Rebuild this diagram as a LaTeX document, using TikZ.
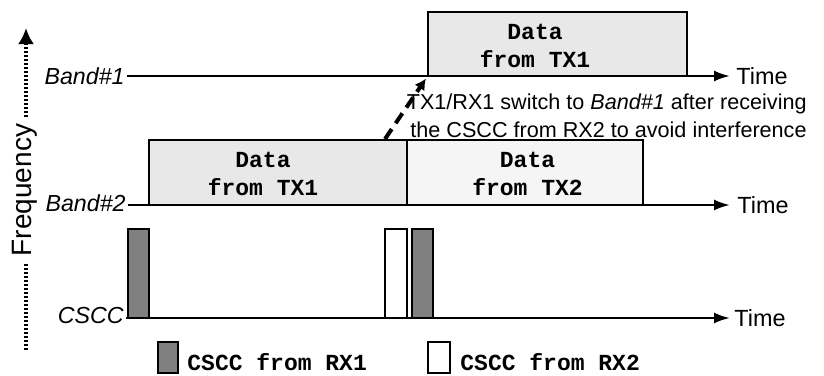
\documentclass[tikz,border=0pt]{standalone}
\usepackage{fontspec}
\setmainfont{Liberation Sans}
\setmonofont{Liberation Mono}
\usetikzlibrary{arrows.meta,calc}
\definecolor{pulsegray}{HTML}{808080}
\definecolor{txonefill}{HTML}{E8E8E8}
\definecolor{txtwofill}{HTML}{F5F5F5}
\begin{document}
\begin{tikzpicture}[x=0.5pt,y=-0.5pt,
  lbl/.style={font=\fontsize{10.8}{14}\selectfont, inner sep=1pt},
  bandlbl/.style={font=\fontsize{11.6}{14}\selectfont\itshape, inner sep=1pt, anchor=east},
  timelbl/.style={font=\fontsize{11.7}{14}\selectfont, inner sep=0pt, anchor=west},
  axis/.style={line width=1.15pt, -{Latex[length=8pt,width=5.5pt]}},
  freqline/.style={line width=2pt, dash pattern=on 1.1pt off 0.9pt},
  databox/.style={draw, line width=1pt, minimum height=32.5pt, inner sep=0pt},
  dtext/.style={font=\fontsize{11.5}{14}\selectfont\ttfamily\bfseries, align=center, inner sep=0pt},
  pulse/.style={draw, line width=1pt, minimum width=10.5pt, minimum height=44.5pt, inner sep=0pt},
  keybox/.style={draw, line width=1pt, minimum height=15.5pt, inner sep=0pt},
  switcharrow/.style={line width=2pt, dash pattern=on 6pt off 3.5pt,
    -{Latex[length=5.5pt,width=6pt]}, shorten >=1pt}]
\useasboundingbox (0,0) rectangle (824,375);

% frequency axis
\node[rotate=90, font=\fontsize{14}{16}\selectfont, inner sep=3pt] (freq) at (25,190) {Frequency};
\coordinate (fbot) at (26,350);
\coordinate (ftop) at (26,28);
\draw[freqline] (fbot) -- (freq.west -| fbot);
\draw[freqline, -{Latex[length=8pt,width=8pt]}] (freq.east -| ftop) -- (ftop);

% data transmissions
\node[databox, fill=txonefill, minimum width=129.5pt, minimum height=32pt] (d1) at (557.5,44) {};
\node[dtext] (d1t) at (535,46) {Data\\from TX1};
\node[databox, fill=txonefill, minimum width=129pt] (d2) at (278,172.5) {};
\node[dtext] (d2t) at (263,174) {Data\\from TX1};
\node[databox, fill=txtwofill, minimum width=118pt] (d3) at (525,172.5) {};
\node[dtext] (d3t) at (527.5,174) {Data\\from TX2};

% CSCC pulses
\node[pulse, fill=pulsegray] (p1) at (138.5,273.5) {};
\node[pulse, fill=white, minimum width=11pt] (p2) at (396,273.5) {};
\node[pulse, fill=pulsegray] (p3) at (422.5,273.5) {};

% time axes
\node[bandlbl] (b1) at (127,76) {Band\#1};
\coordinate (e1) at (730,76);
\node[timelbl] (t1) at (736,76) {Time};
\draw[axis] (b1.east) -- (e1);

\node[bandlbl] (b2) at (128,203) {Band\#2};
\coordinate (e2) at (730,205);
\node[timelbl] (t2) at (737,205) {Time};
\draw[axis] (b2.east |- e2) -- (e2);

\node[bandlbl] (b3) at (126,316) {CSCC};
\coordinate (e3) at (730,318);
\node[timelbl] (t3) at (734,318) {Time};
\draw[axis] (b3.east |- e3) -- (e3);

% band switch
\draw[switcharrow] ($(d2.north east)+(-23,0)$) -- (d1.south west);
\node[lbl, align=right, anchor=east] (note) at (809,116)
  {TX1/RX1 switch to \textit{Band\#1} after receiving\\the CSCC from RX2 to avoid interference};

% legend
\node[keybox, fill=pulsegray, minimum width=10pt] (k1) at (168,357.5) {};
\node[dtext, anchor=west] (k1t) at (187,362) {CSCC from RX1};
\node[keybox, fill=white, minimum width=11pt] (k2) at (439,357.5) {};
\node[dtext, anchor=west] (k2t) at (460,362) {CSCC from RX2};
\end{tikzpicture}
\end{document}
